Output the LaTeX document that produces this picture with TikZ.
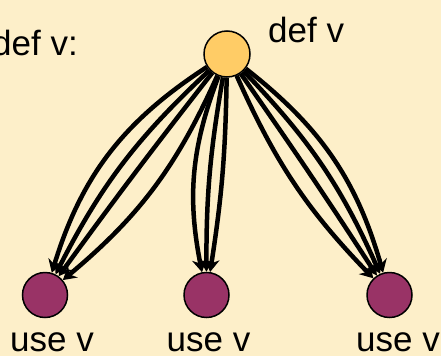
\documentclass[tikz,border=0pt]{standalone}
\usepackage{fontspec}
\setmainfont{Liberation Sans}
\usetikzlibrary{arrows.meta}
\definecolor{cream}{RGB}{253,239,201}
\definecolor{defcol}{RGB}{255,204,102}
\definecolor{usecol}{RGB}{153,51,102}

\begin{document}
\begin{tikzpicture}[x=1pt,y=-1pt,
  defnode/.style={circle,draw,line width=1.5pt,fill=defcol,inner sep=0pt,minimum size=46pt},
  usenode/.style={circle,draw,line width=1.5pt,fill=usecol,inner sep=0pt,minimum size=45pt},
  lbl/.style={font=\fontsize{35}{40}\selectfont,inner sep=0pt},
  flow/.style={line width=4.5pt,-{Stealth[length=13pt,width=15pt]}}]
\fill[cream] (0,0) rectangle (441,356);
\useasboundingbox (0,0) rectangle (441,356);
\node [defnode] (d) at (227,54) {};
\node [usenode] (u1) at (45,295) {};
\node [usenode] (u2) at (206.5,295) {};
\node [usenode] (u3) at (389.5,295) {};
\node [lbl,anchor=base west] (title) at (-8,55) {def v:};
\node [lbl,anchor=base west] (dl) at (268,42) {def v};
\node [lbl,anchor=base] (l1) at (52,351) {use v};
\node [lbl,anchor=base] (l2) at (208.5,351) {use v};
\node [lbl,anchor=base] (l3) at (398,351) {use v};
% paths to the left use
\draw [flow] (d) to[bend right=20] (u1);
\draw [flow] (d) to[bend right=10] (u1);
\draw [flow] (d) to[bend right=1] (u1);
\draw [flow] (d) to[bend left=13] (u1);
% paths to the middle use
\draw [flow] (d) to[bend right=16] (u2);
\draw [flow] (d) to[bend right=5] (u2);
\draw [flow] (d) to[bend left=4] (u2);
% paths to the right use
\draw [flow] (d) to[bend left=18] (u3);
\draw [flow] (d) to[bend left=10] (u3);
\draw [flow] (d) to[bend left=1] (u3);
\draw [flow] (d) to[bend right=10] (u3);
\end{tikzpicture}
\end{document}
